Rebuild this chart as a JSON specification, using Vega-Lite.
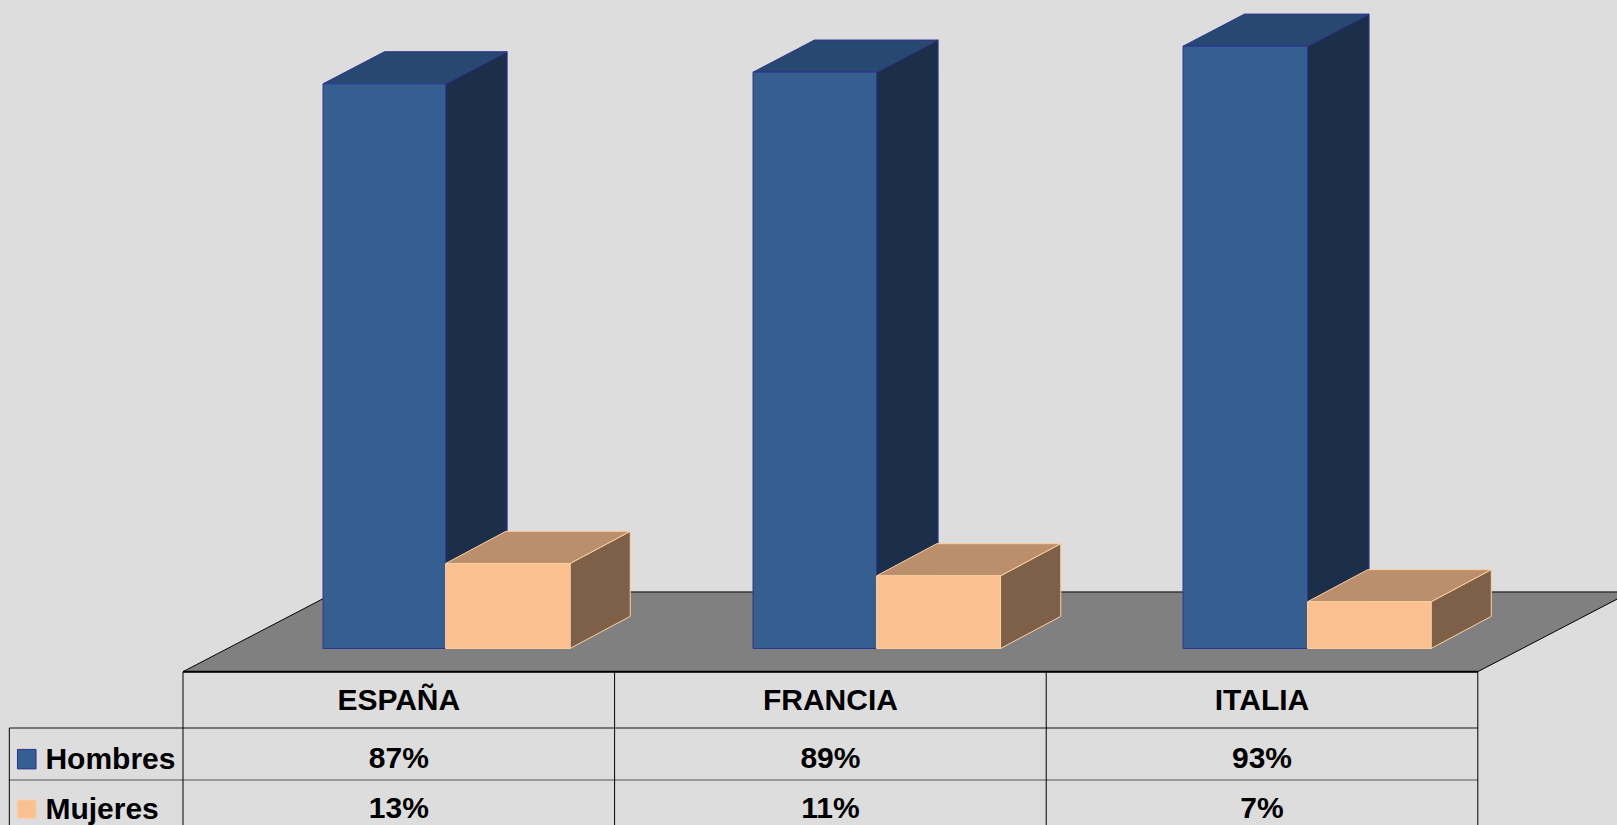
{
"$schema":"https://vega.github.io/schema/vega-lite/v6.json",
"width":1617,"height":825,"padding":0,"autosize":{"type":"none"},
"background":"#dddddd",
"view":{"stroke":null,"fill":null},
"config":{"axis":{"disable":true},"text":{"font":"Liberation Sans","fontWeight":"bold","fontSize":30,"color":"#000000"}},
"data":{"values":[
{"pais":"ESPAÑA","serie":"Hombres","valor":0.87},
{"pais":"ESPAÑA","serie":"Mujeres","valor":0.131},
{"pais":"FRANCIA","serie":"Hombres","valor":0.888},
{"pais":"FRANCIA","serie":"Mujeres","valor":0.112},
{"pais":"ITALIA","serie":"Hombres","valor":0.928},
{"pais":"ITALIA","serie":"Mujeres","valor":0.072}
]},
"transform":[
{"calculate":"indexof(['ESPAÑA','FRANCIA','ITALIA'],datum.pais)","as":"idx"},
{"calculate":"datum.idx+0.5","as":"centro"},
{"calculate":"datum.serie=='Hombres'?0.1425:0.1395","as":"dx"},
{"calculate":"datum.serie=='Hombres'?0.3244+datum.idx*0.9963:0.6085+datum.idx*0.9985","as":"izq"},
{"calculate":"datum.serie=='Hombres'?0.6085+datum.idx*0.9985:0.8967+datum.idx*0.9975","as":"der"},
{"calculate":"[0,1]","as":"t"},
{"flatten":["t"]},
{"calculate":"datum.der+datum.t*datum.dx","as":"ladoX"},
{"calculate":"datum.t*0.0495","as":"base"},
{"calculate":"datum.valor+datum.t*0.0495","as":"alto"},
{"calculate":"datum.izq+datum.t*datum.dx","as":"techoIzq"},
{"calculate":"datum.der+datum.t*datum.dx","as":"techoDer"}
],
"resolve":{"scale":{"fill":"independent","stroke":"shared"}},
"layer":[
{"data":{"values":[{"f":0},{"f":1}]},
 "transform":[{"calculate":"datum.f*0.3545","as":"a"},{"calculate":"3+datum.f*0.3545","as":"b"},{"calculate":"-0.0357+datum.f*0.1228","as":"h"}],
 "mark":{"type":"area","orient":"horizontal","fill":"#808080","stroke":"#000000","strokeWidth":1,"clip":true},
 "encoding":{"x":{"field":"a","type":"quantitative","stack":null,"scale":{"domain":[-0.424,3.3225],"nice":false,"zero":false},"axis":null},"x2":{"field":"b"},"y":{"field":"h","type":"quantitative","scale":{"domain":[-0.27196,0.9992],"nice":false,"zero":false},"axis":null}}},
{"mark":{"type":"area","strokeWidth":1},
 "encoding":{"x":{"field":"ladoX","type":"quantitative","axis":null},"y":{"field":"alto","type":"quantitative","stack":null,"axis":null},"y2":{"field":"base"},"detail":{"field":"pais"},
 "fill":{"field":"serie","type":"nominal","legend":null,"scale":{"domain":["Hombres","Mujeres"],"range":["#1c2f4a","#7d6047"]}},
 "stroke":{"field":"serie","type":"nominal","legend":null,"scale":{"domain":["Hombres","Mujeres"],"range":["#2f3490","#fcd0a0"]}}}},
{"mark":{"type":"area","orient":"horizontal","strokeWidth":1},
 "encoding":{"x":{"field":"techoIzq","type":"quantitative","stack":null,"axis":null},"x2":{"field":"techoDer"},"y":{"field":"alto","type":"quantitative","axis":null},"detail":{"field":"pais"},
 "fill":{"field":"serie","type":"nominal","legend":null,"scale":{"domain":["Hombres","Mujeres"],"range":["#274870","#bb8f6c"]}},
 "stroke":{"field":"serie","type":"nominal","legend":null}}},
{"transform":[{"filter":"datum.t==0"}],
 "mark":{"type":"rect","strokeWidth":1},
 "encoding":{"x":{"field":"izq","type":"quantitative","axis":null},"x2":{"field":"der"},"y":{"field":"valor","type":"quantitative","axis":null},"y2":{"datum":0},
 "fill":{"field":"serie","type":"nominal","legend":null,"scale":{"domain":["Hombres","Mujeres"],"range":["#365f91","#fac090"]}},
 "stroke":{"field":"serie","type":"nominal","legend":null}}},
{"data":{"values":[{}]},"mark":{"type":"rule","color":"#000000","strokeWidth":2},"encoding":{"x":{"datum":0,"type":"quantitative"},"x2":{"datum":3},"y":{"datum":-0.0357,"type":"quantitative"}}},
{"data":{"values":[{}]},"mark":{"type":"rule","color":"#555555","strokeWidth":1.5},"encoding":{"x":{"datum":-0.4024,"type":"quantitative"},"x2":{"datum":3},"y":{"datum":-0.1225,"type":"quantitative"}}},
{"data":{"values":[{}]},"mark":{"type":"rule","color":"#555555","strokeWidth":1},"encoding":{"x":{"datum":-0.4024,"type":"quantitative"},"x2":{"datum":3},"y":{"datum":-0.2026,"type":"quantitative"}}},
{"data":{"values":[{"c":0},{"c":1},{"c":2},{"c":3}]},"mark":{"type":"rule","color":"#000000","strokeWidth":1},"encoding":{"x":{"field":"c","type":"quantitative"},"y":{"datum":-0.0357,"type":"quantitative"},"y2":{"datum":-0.27196}}},
{"data":{"values":[{}]},"mark":{"type":"rule","color":"#000000","strokeWidth":1},"encoding":{"x":{"datum":-0.4024,"type":"quantitative"},"y":{"datum":-0.1225,"type":"quantitative"},"y2":{"datum":-0.27196}}},
{"transform":[{"filter":"datum.t==0 && datum.serie=='Hombres'"}],"mark":{"type":"text","baseline":"middle"},"encoding":{"x":{"field":"centro","type":"quantitative"},"y":{"datum":-0.0805,"type":"quantitative"},"text":{"field":"pais"}}},
{"transform":[{"filter":"datum.t==0 && datum.serie=='Hombres'"}],"mark":{"type":"text","baseline":"middle"},"encoding":{"x":{"field":"centro","type":"quantitative"},"y":{"datum":-0.1695,"type":"quantitative"},"text":{"field":"valor","type":"quantitative","format":".0%"}}},
{"transform":[{"filter":"datum.t==0 && datum.serie=='Mujeres'"}],"mark":{"type":"text","baseline":"middle"},"encoding":{"x":{"field":"centro","type":"quantitative"},"y":{"datum":-0.248,"type":"quantitative"},"text":{"field":"valor","type":"quantitative","format":".0%"}}},
{"transform":[{"filter":"datum.t==0 && datum.pais=='ESPAÑA' && datum.serie=='Hombres'"}],"mark":{"type":"rect","fill":"#365f91","stroke":"#2f3490","strokeWidth":1},"encoding":{"x":{"datum":-0.3835,"type":"quantitative"},"x2":{"datum":-0.3405},"y":{"datum":-0.1555,"type":"quantitative"},"y2":{"datum":-0.1855}}},
{"transform":[{"filter":"datum.t==0 && datum.pais=='ESPAÑA' && datum.serie=='Mujeres'"}],"mark":{"type":"rect","fill":"#fac090","stroke":"#fcd0a0","strokeWidth":1},"encoding":{"x":{"datum":-0.3835,"type":"quantitative"},"x2":{"datum":-0.3405},"y":{"datum":-0.2335,"type":"quantitative"},"y2":{"datum":-0.2615}}},
{"transform":[{"filter":"datum.t==0 && datum.pais=='ESPAÑA' && datum.serie=='Hombres'"}],"mark":{"type":"text","baseline":"middle","align":"left"},"encoding":{"x":{"datum":-0.3188,"type":"quantitative"},"y":{"datum":-0.1725,"type":"quantitative"},"text":{"field":"serie"}}},
{"transform":[{"filter":"datum.t==0 && datum.pais=='ESPAÑA' && datum.serie=='Mujeres'"}],"mark":{"type":"text","baseline":"middle","align":"left"},"encoding":{"x":{"datum":-0.3188,"type":"quantitative"},"y":{"datum":-0.2495,"type":"quantitative"},"text":{"field":"serie"}}}
]
}
